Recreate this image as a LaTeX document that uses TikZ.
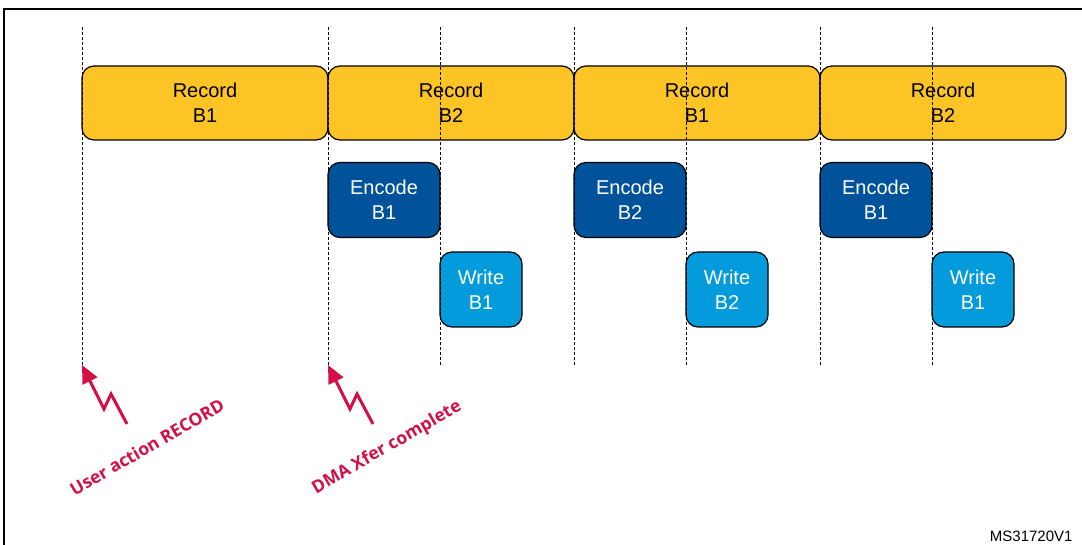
\documentclass[tikz,border=0pt]{standalone}
\usepackage{fontspec}
\setmainfont{Liberation Sans}
\newfontfamily\notefont{Open Sans}
\usetikzlibrary{arrows.meta}

\definecolor{recyellow}{RGB}{252,196,37}
\definecolor{encblue}{RGB}{0,83,155}
\definecolor{wrblue}{RGB}{3,155,219}
\definecolor{evtred}{RGB}{213,15,70}

\tikzset{
    box/.style={draw, line width=1.2pt, rounded corners=12pt, align=center,
        font=\fontsize{20}{25}\selectfont, inner sep=0pt},
    recbox/.style={box, fill=recyellow, minimum width=246pt, minimum height=74pt},
    encbox/.style={box, fill=encblue, text=white, minimum width=112pt, minimum height=75pt},
    wrbox/.style={box, fill=wrblue, text=white, minimum width=82pt, minimum height=75pt},
    guide/.style={densely dashed, line width=0.8pt},
    bolt/.style={{Triangle[length=18pt,width=16pt]}-, evtred, line width=3pt},
    evtlabel/.style={evtred, rotate=30, font=\notefont\bfseries\fontsize{17.5}{21}\selectfont}
}

\begin{document}
\begin{tikzpicture}[x=1pt,y=-1pt]
    \useasboundingbox (0,0) rectangle (1082,545);
    \draw[line width=1.3pt] (4,600) -- (4,9) -- (1120,9);

    \node[recbox] (rec1) at (205,103) {Record\\B1};
    \node[recbox] (rec2) at (451,103) {Record\\B2};
    \node[recbox] (rec3) at (697,103) {Record\\B1};
    \node[recbox] (rec4) at (943,103) {Record\\B2};

    \node[encbox] (enc1) at (384,200) {Encode\\B1};
    \node[encbox] (enc2) at (630,200) {Encode\\B2};
    \node[encbox] (enc3) at (876,200) {Encode\\B1};

    \node[wrbox] (wr1) at (481,289.5) {Write\\B1};
    \node[wrbox] (wr2) at (727,289.5) {Write\\B2};
    \node[wrbox] (wr3) at (973,289.5) {Write\\B1};

    % time marks
    \draw[guide] (82,27) -- (82,365);
    \draw[guide] (328,27) -- (328,365);
    \draw[guide] (440,27) -- (440,365);
    \draw[guide] (574,27) -- (574,365);
    \draw[guide] (686,27) -- (686,365);
    \draw[guide] (820,27) -- (820,365);
    \draw[guide] (932,27) -- (932,365);

    \coordinate (evt1) at (82,365);
    \coordinate (evt2) at (328,365);
    \draw[bolt] (evt1) -- ++(22,44) -- ++(7,-15) -- ++(16,30);
    \draw[bolt] (evt2) -- ++(22,44) -- ++(7,-15) -- ++(16,30);
    \node[evtlabel] (lbl1) at (147,447) {User action RECORD};
    \node[evtlabel] (lbl2) at (387,448) {DMA Xfer complete};

    \node[anchor=east, font=\fontsize{15}{18}\selectfont] (ref) at (1076,536) {MS31720V1};

\end{tikzpicture}
\end{document}
